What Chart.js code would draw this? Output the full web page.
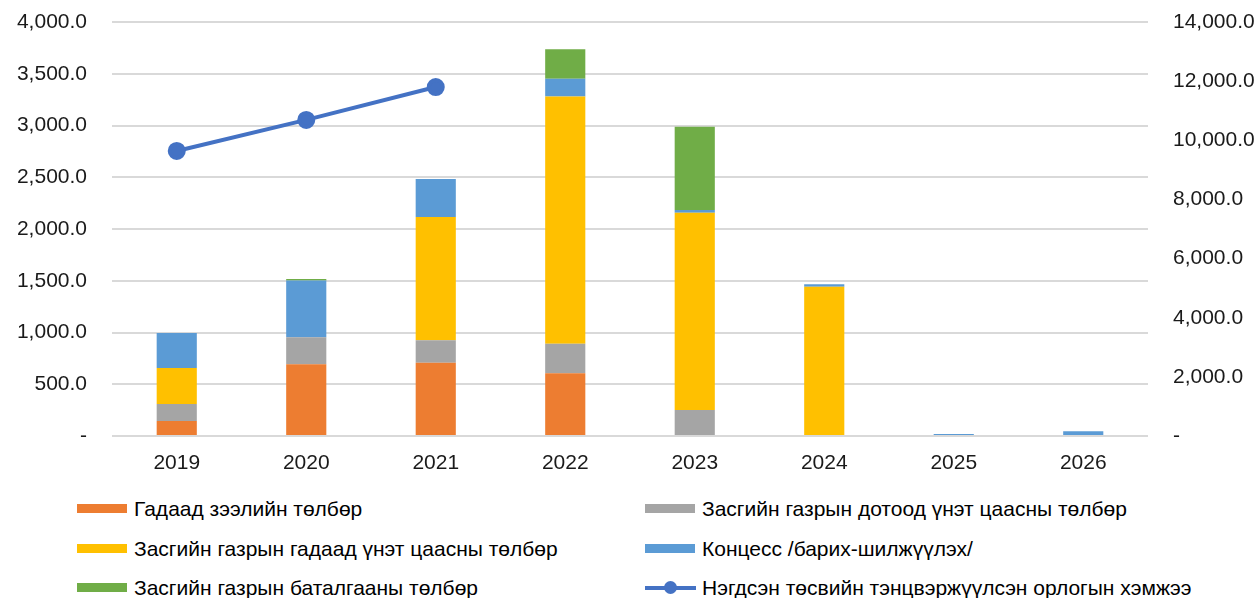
<!DOCTYPE html>
<html><head><meta charset="utf-8">
<script src="https://cdn.jsdelivr.net/npm/chart.js@4"></script>
<style>
html,body{margin:0;padding:0;background:#fff;}
#wrap{position:relative;width:1258px;height:598px;overflow:hidden;}
#c{position:absolute;left:0;top:0;}
.lg{position:absolute;font-family:"Liberation Sans",Arial,sans-serif;font-size:21px;color:#000;white-space:nowrap;line-height:24px;}
.bx{position:absolute;width:50px;height:9px;}
</style></head>
<body><div id="wrap"><canvas id="c" width="1258" height="480"></canvas><div id="legend"></div></div>
<script>
const categories = ["2019","2020","2021","2022","2023","2024","2025","2026"];
const externalLoan = [145, 693, 708, 606, 0, 0, 0, 0];
const domesticBonds = [164, 260, 216, 286, 251, 0, 0, 0];
const externalBonds = [348, 0, 1192, 2387, 1907, 1443, 0, 0];
const concession = [338, 550, 367, 173, 26, 23, 20, 45];
const guarantee = [0, 15, 0, 284, 804, 0, 0, 0];
const balancedRevenue = [9640, 10690, 11800, null, null, null, null, null];
const leftTicks = [0, 500, 1000, 1500, 2000, 2500, 3000, 3500, 4000];
const rightTicks = [0, 2000, 4000, 6000, 8000, 10000, 12000, 14000];

const names = ["Гадаад зээлийн төлбөр","Засгийн газрын дотоод үнэт цаасны төлбөр","Засгийн газрын гадаад үнэт цаасны төлбөр","Концесс /барих-шилжүүлэх/","Засгийн газрын баталгааны төлбөр","Нэгдсэн төсвийн тэнцвэржүүлсэн орлогын хэмжээ"];
const colors = ["#ED7D31","#A5A5A5","#FFC000","#5B9BD5","#70AD47","#4472C4"];
const barSeries = [externalLoan, domesticBonds, externalBonds, concession, guarantee];

const fmt = v => v === 0 ? "-" : v.toLocaleString("en-US",{minimumFractionDigits:1,maximumFractionDigits:1});
const font = {family:'"Liberation Sans", Arial, sans-serif', size:21};

const datasets = [{
  type:'line', label:names[5], data:balancedRevenue, yAxisID:'y2',
  borderColor:colors[5], backgroundColor:colors[5], borderWidth:4,
  pointRadius:7, pointHoverRadius:7, pointBackgroundColor:colors[5], pointBorderColor:colors[5],
  order:0, spanGaps:false, tension:0
}];
barSeries.forEach((d,i)=>datasets.push({
  type:'bar', label:names[i], data:d, backgroundColor:colors[i], yAxisID:'y', stack:'s',
  order:1, barPercentage:0.31, categoryPercentage:1.0, borderWidth:0
}));

function fitV(w){ return s=>{ s.width=w; s.paddingTop=0; s.paddingBottom=0; }; }

new Chart(document.getElementById('c'), {
  data:{labels:categories, datasets},
  options:{
    responsive:false, animation:false, maintainAspectRatio:false,
    layout:{padding:{top:22,bottom:0,left:0,right:0}},
    plugins:{legend:{display:false}, tooltip:{enabled:false}},
    scales:{
      x:{stacked:true, grid:{display:false}, border:{display:false},
        ticks:{font, color:'#1a1a1a', padding:7},
        afterFit:s=>{s.height=44; s.paddingLeft=0; s.paddingRight=0;}},
      y:{stacked:true, position:'left', min:0, max:4000,
        afterBuildTicks:s=>{s.ticks=leftTicks.map(v=>({value:v}));},
        ticks:{font, color:'#1a1a1a', callback:v=>fmt(v), padding:25},
        grid:{color:'#D9D9D9', lineWidth:2, drawTicks:false}, border:{display:false},
        afterFit:fitV(112)},
      y2:{position:'right', min:0, max:14000,
        afterBuildTicks:s=>{s.ticks=rightTicks.map(v=>({value:v}));},
        ticks:{font, color:'#1a1a1a', callback:v=>fmt(v), padding:25},
        grid:{display:false, drawTicks:false}, border:{display:false},
        afterFit:fitV(110)}
    }
  }
});

// HTML legend
const lg = document.getElementById('legend');
const pos = [[77,509],[645,509],[77,549],[645,549],[77,588],[645,588]];
names.forEach((n,i)=>{
  const [x,y]=pos[i];
  if(i<5){
    const b=document.createElement('div'); b.className='bx';
    b.style.left=x+'px'; b.style.top=(y-5)+'px'; b.style.background=colors[i];
    lg.appendChild(b);
  } else {
    const l=document.createElement('div');
    l.style.cssText=`position:absolute;left:${x}px;top:${y-2}px;width:51px;height:4px;background:${colors[i]};`;
    lg.appendChild(l);
    const d=document.createElement('div');
    d.style.cssText=`position:absolute;left:${x+19}px;top:${y-7}px;width:13px;height:13px;border-radius:50%;background:${colors[i]};`;
    lg.appendChild(d);
  }
  const t=document.createElement('div'); t.className='lg';
  t.style.left=(x+57)+'px'; t.style.top=(y-12)+'px'; t.textContent=n;
  lg.appendChild(t);
});
</script></body></html>
